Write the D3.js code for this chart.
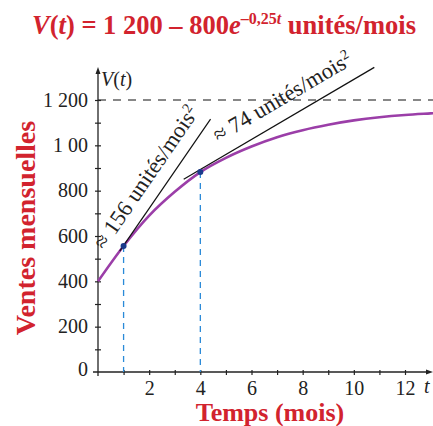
<!DOCTYPE html>
<html>
<head>
<meta charset="utf-8">
<script src="https://cdn.jsdelivr.net/npm/d3@7"></script>
<style>
body{margin:0;background:#fff}
#mySVG text{font-family:"Liberation Serif","DejaVu Serif","Times New Roman",serif}
</style>
</head>
<body>
<svg id="mySVG" width="433" height="426"></svg>
<script>
//---values---
var curveT=[0,1,2,3,4,5,6,7,8,9,10,11,12,13,13.3]
var curveV=[400,556,690,795,882,945,995,1036,1067,1091,1110,1124,1134,1141,1143]
var tangentT=[1,4]
var tangentV=[556,882]
var tangentFrom=[[0.85,533],[3.35,850]]
var tangentTo=[[4.4,1116],[10.8,1344]]
var tangentText=["\u2248 156 unités/mois","\u2248 74 unités/mois"]
var tangentTextPos=[[1.86,860],[7.2,1215]]
var xTicks=[1,2,3,4,5,6,7,8,9,10,11,12]
var yTicks=[100,200,300,400,500,600,700,800,900,1000,1100,1200]
var yLabels={0:"0",200:"200",400:"400",600:"600",800:"800",1000:"1 00",1200:"1 200"}
var asymptote=1200

var red="#d2232e"
var svg=d3.select("#mySVG")

var x=d3.scaleLinear().domain([0,12]).range([98,405])
var y=d3.scaleLinear().domain([0,1200]).range([372,100])

//---title---
var title=svg.append("text")
.attr("x",224).attr("y",34)
.attr("text-anchor","middle")
.attr("font-weight","bold")
.attr("font-size",26.5).attr("fill",red)
title.append("tspan").attr("font-style","italic").text("V")
title.append("tspan").text("(")
title.append("tspan").attr("font-style","italic").text("t")
title.append("tspan").text(") = 1 200 \u2013 800")
title.append("tspan").attr("font-style","italic").text("e")
title.append("tspan").attr("dy",-10).attr("font-size",16).text("\u20130,25")
title.append("tspan").attr("font-style","italic").attr("font-size",16).text("t")
title.append("tspan").attr("dy",10).text(" unités/mois")

//---axis titles---
svg.append("text")
.attr("transform","translate(35,228)rotate(-90)")
.attr("text-anchor","middle")
.attr("font-weight","bold")
.attr("font-size",28).attr("fill",red)
.text("Ventes mensuelles")

svg.append("text")
.attr("x",270).attr("y",421)
.attr("text-anchor","middle")
.attr("font-weight","bold")
.attr("font-size",26).attr("fill",red)
.text("Temps (mois)")

//---asymptote---
svg.append("line")
.attr("x1",x(0)).attr("x2",433)
.attr("y1",y(asymptote)).attr("y2",y(asymptote))
.attr("stroke","#111").attr("stroke-width",1.2)
.attr("stroke-dasharray","8,7")

//---x axis---
var xAxis=svg.append("g")
.attr("transform","translate(0,"+y(0)+")")
.call(d3.axisBottom(x).tickValues(xTicks).tickSize(3)
  .tickFormat(function(d){return d%2==0?d:""}))
xAxis.select(".domain").remove()
xAxis.attr("font-family",null)
xAxis.selectAll(".tick line").attr("y1",-2).attr("stroke","#222").attr("stroke-width",1.2)
xAxis.selectAll(".tick text")
.attr("y",23).attr("dy",0)
.attr("font-size",20).attr("fill","#222")
svg.append("line")
.attr("x1",93).attr("x2",428)
.attr("y1",y(0)).attr("y2",y(0))
.attr("stroke","#222").attr("stroke-width",1.3)
svg.append("path")
.attr("d","M"+433+","+y(0)+"l-7,-2.5l0,5z")
.attr("fill","#222")
svg.append("text")
.attr("x",424).attr("y",393)
.attr("font-style","italic")
.attr("font-size",20).attr("fill","#222")
.text("t")

//---y axis---
var yAxis=svg.append("g")
.attr("transform","translate("+x(0)+",0)")
.call(d3.axisLeft(y).tickValues(yTicks).tickSize(3)
  .tickFormat(function(d){return yLabels[d]||""}))
yAxis.select(".domain").remove()
yAxis.attr("font-family",null)
yAxis.selectAll(".tick line").attr("x1",3).attr("stroke","#222").attr("stroke-width",1.2)
yAxis.selectAll(".tick text")
.attr("x",-10).attr("dy","0.3em")
.attr("font-size",20).attr("fill","#222")
yAxis.append("text")
.attr("x",-10).attr("y",y(0)).attr("dy","0.2em")
.attr("text-anchor","end")
.attr("font-size",20).attr("fill","#222")
.text(yLabels[0])
svg.append("line")
.attr("x1",x(0)).attr("x2",x(0))
.attr("y1",y(0)+4).attr("y2",72)
.attr("stroke","#222").attr("stroke-width",1.3)
svg.append("path")
.attr("d","M"+x(0)+",67l-2.5,7l5,0z")
.attr("fill","#222")
var vLab=svg.append("text")
.attr("x",101).attr("y",86)
.attr("font-size",20).attr("fill","#222")
vLab.append("tspan").attr("font-style","italic").text("V")
vLab.append("tspan").text("(")
vLab.append("tspan").attr("font-style","italic").text("t")
vLab.append("tspan").text(")")

//---drop lines---
svg.selectAll(".drop").data(tangentT).enter().append("line")
.attr("class","drop")
.attr("x1",function(d){return x(d)}).attr("x2",function(d){return x(d)})
.attr("y1",function(d,i){return y(tangentV[i])}).attr("y2",y(0))
.attr("stroke","#2a8ad8").attr("stroke-width",1.3)
.attr("stroke-dasharray","6,5")

//---curve---
var pts=curveT.map(function(t,i){return [t,curveV[i]]})
svg.append("path")
.datum(pts)
.attr("d",d3.line().x(function(d){return x(d[0])}).y(function(d){return y(d[1])}).curve(d3.curveMonotoneX))
.attr("fill","none").attr("stroke","#9b3ea8").attr("stroke-width",2.6)

//---tangents---
tangentFrom.forEach(function(a,i){
  var b=tangentTo[i]
  svg.append("line")
  .attr("x1",x(a[0])).attr("y1",y(a[1]))
  .attr("x2",x(b[0])).attr("y2",y(b[1]))
  .attr("stroke","#111").attr("stroke-width",1.2)
  var ang=Math.atan2(y(b[1])-y(a[1]),x(b[0])-x(a[0]))*180/Math.PI
  var p=tangentTextPos[i]
  var lab=svg.append("text")
  .attr("transform","translate("+x(p[0])+","+y(p[1])+")rotate("+ang+")")
  .attr("text-anchor","middle").attr("dy","0.35em")
  .attr("font-size",22.5).attr("fill","#222")
  lab.append("tspan").text(tangentText[i])
  lab.append("tspan").attr("dy",-8).attr("font-size",14).text("2")
})

//---tangent points---
svg.selectAll(".pt").data(tangentT).enter().append("circle")
.attr("cx",function(d){return x(d)})
.attr("cy",function(d,i){return y(tangentV[i])})
.attr("r",3).attr("fill","#1b3a8c")
</script>
</body>
</html>
